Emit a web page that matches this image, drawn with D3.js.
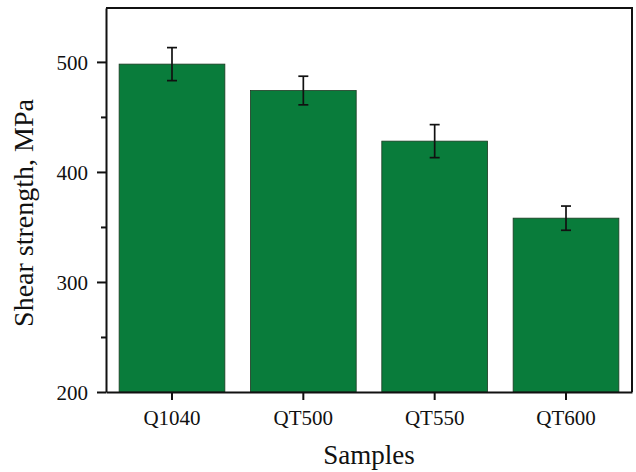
<!DOCTYPE html>
<html>
<head>
<meta charset="utf-8">
<script src="https://cdn.jsdelivr.net/npm/d3@7"></script>
<style>
body { margin: 0; background: #fff; }
text { font-family: "Liberation Serif", "Times New Roman", serif; fill: #111; }
</style>
</head>
<body>
<svg id="chart"></svg>
<script>
// data
const samples = ['Q1040', 'QT500', 'QT550', 'QT600'];
const strength = [498, 474, 428, 358];
const errors = [15, 13, 15, 11];
const yTicks = [200, 300, 400, 500];
const yMinorTicks = [250, 350, 450];

const width = 636, height = 472;
const margin = { top: 8, right: 4, bottom: 80, left: 106 };
const vizWidth = width - margin.left - margin.right;
const vizHeight = height - margin.top - margin.bottom;

let svg = d3.select('#chart')
    .attr('width', width)
    .attr('height', height);

let plot = svg.append('g')
    .attr('transform', 'translate(' + margin.left + ',' + margin.top + ')');

let x = d3.scaleBand()
    .domain(samples)
    .range([0, vizWidth])
    .paddingInner(0.195)
    .paddingOuter(0.1);

let y = d3.scaleLinear()
    .domain([200, 549])
    .range([vizHeight, 0]);

// bars
plot.selectAll('rect.bar')
    .data(samples)
    .join('rect')
    .attr('class', 'bar')
    .attr('x', d => x(d))
    .attr('width', x.bandwidth())
    .attr('y', (d, i) => y(strength[i]))
    .attr('height', (d, i) => y(200) - y(strength[i]))
    .attr('fill', '#097c3b')
    .attr('stroke', '#1c3a22')
    .attr('stroke-width', 0.8);

// error bars
let err = plot.selectAll('g.err')
    .data(samples)
    .join('g')
    .attr('class', 'err')
    .attr('stroke', '#111')
    .attr('stroke-width', 1.7);
err.append('line')
    .attr('x1', d => x(d) + x.bandwidth() / 2)
    .attr('x2', d => x(d) + x.bandwidth() / 2)
    .attr('y1', (d, i) => y(strength[i] + errors[i]))
    .attr('y2', (d, i) => y(strength[i] - errors[i]));
err.append('line')
    .attr('x1', d => x(d) + x.bandwidth() / 2 - 5)
    .attr('x2', d => x(d) + x.bandwidth() / 2 + 5)
    .attr('y1', (d, i) => y(strength[i] + errors[i]))
    .attr('y2', (d, i) => y(strength[i] + errors[i]));
err.append('line')
    .attr('x1', d => x(d) + x.bandwidth() / 2 - 5)
    .attr('x2', d => x(d) + x.bandwidth() / 2 + 5)
    .attr('y1', (d, i) => y(strength[i] - errors[i]))
    .attr('y2', (d, i) => y(strength[i] - errors[i]));

// frame (top and right)
plot.append('path')
    .attr('d', 'M0,0H' + vizWidth + 'V' + vizHeight)
    .attr('fill', 'none')
    .attr('stroke', '#111')
    .attr('stroke-width', 2);

// minor y ticks
plot.append('g')
    .call(d3.axisLeft(y).tickValues(yMinorTicks).tickSize(5).tickFormat(''))
    .call(g => g.select('.domain').remove())
    .selectAll('line').attr('stroke-width', 2).attr('stroke', '#111');

// y axis
let yAxis = plot.append('g')
    .call(d3.axisLeft(y).tickValues(yTicks).tickSize(9).tickSizeOuter(0).tickPadding(9));
yAxis.select('.domain').attr('stroke-width', 2).attr('stroke', '#111');
yAxis.selectAll('line').attr('stroke-width', 2).attr('stroke', '#111');
yAxis.selectAll('text')
    .style('font-family', '"Liberation Serif", serif')
    .style('font-size', '21px')
    .attr('dy', '0.34em');

// x axis
let xAxis = plot.append('g')
    .attr('transform', 'translate(0,' + vizHeight + ')')
    .call(d3.axisBottom(x).tickSize(8).tickSizeOuter(0).tickPadding(10));
xAxis.select('.domain').attr('stroke-width', 2).attr('stroke', '#111');
xAxis.selectAll('line').attr('stroke-width', 2).attr('stroke', '#111');
xAxis.selectAll('text')
    .style('font-family', '"Liberation Serif", serif')
    .style('font-size', '21px');

// axis labels
svg.append('text')
    .attr('x', margin.left + vizWidth / 2)
    .attr('y', 464)
    .style('text-anchor', 'middle')
    .style('font-size', '27px')
    .text('Samples');

svg.append('text')
    .attr('transform', 'translate(33,' + 213 + ') rotate(-90)')
    .style('text-anchor', 'middle')
    .style('font-size', '28px')
    .text('Shear strength, MPa');
</script>
</body>
</html>
